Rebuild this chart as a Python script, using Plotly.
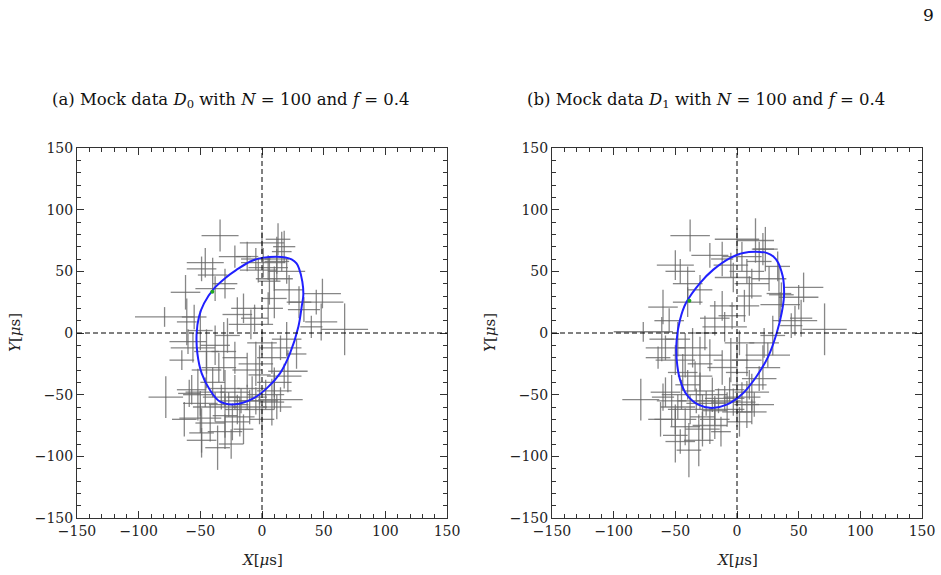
import plotly.graph_objects as go

# ---------------- data ----------------
tick_vals = [-150, -100, -50, 0, 50, 100, 150]
tick_text = ["\u2212150", "\u2212100", "\u221250", "0", "50", "100", "150"]

# panel (a): mock data D0  (x, y, x-error, y-error)
a_x = [-34, -46, -49, -22, -12, 0, 13, 18, 12, 16, 1, 5, -5, 12, -3, -40, -38, -30, 20, 10, 6,
       -79, -62, -61, -55, -65, -60, -56, -50, -45, -38, -31, -35, -28, -20, -15, -9, -6, 5, 10, 22,
       30, 34, 44, 49, 48, 40, 67, 20, 15, 28, 21, 18, 8, -2, 10, -12, -22, 0, -5,
       -78, -57, -59, -52, -50, -49, -42, -50, -63, -49, -36, -38, -33, -30, -27, -24, -22, -20,
       -17, -15, -12, -10, -5, -2, 3, 8, 10, 15, 12, 0, -30, -40, -45, -30, -25, -18, -8, -46]
a_y = [79, 57, 52, 62, 62, 73, 76, 70, 60, 66, 57, 53, 60, 58, 51, 47, 36, 40, 50, 44, 42,
       13, 33, 9, 13, -22, -7, -12, 2, -15, -10, -15, -28, -2, 15, 20, 7, 12, 20, 28, 35,
       25, 19, 25, 32, 9, 5, 3, -5, -12, -17, -31, -35, -20, -34, -40, -30, -20, -8, -25,
       -52, -46, -49, -50, -69, -81, -73, -57, -70, -87, -93, -60, -52, -67, -58, -72, -48, -62,
       -55, -78, -52, -60, -55, -62, -50, -56, -47, -54, -60, -70, -45, -40, -30, -80, -90, -68, -45, -48]
a_ex = [15, 15, 12, 13, 9, 18, 10, 9, 10, 8, 18, 16, 12, 10, 15, 12, 16, 10, 15, 15, 9,
        24, 12, 8, 10, 10, 15, 18, 10, 10, 12, 10, 14, 10, 12, 10, 18, 11, 12, 10, 12,
        10, 13, 22, 15, 13, 9, 19, 12, 17, 8, 16, 14, 12, 9, 14, 12, 10, 12, 14,
        14, 12, 9, 12, 17, 10, 12, 14, 10, 12, 10, 18, 15, 10, 16, 14, 12, 10,
        18, 8, 16, 14, 18, 12, 15, 10, 14, 18, 12, 10, 12, 10, 12, 14, 10, 12, 12, 16]
a_ey = [13, 12, 10, 9, 12, 9, 13, 13, 18, 16, 12, 10, 9, 10, 10, 14, 10, 12, 10, 10, 19,
        8, 14, 19, 10, 8, 10, 12, 16, 18, 16, 24, 12, 14, 14, 12, 12, 11, 13, 16, 12,
        13, 10, 10, 12, 15, 9, 21, 14, 10, 12, 17, 10, 13, 24, 12, 14, 13, 10, 18,
        17, 12, 11, 21, 12, 20, 15, 10, 14, 10, 18, 12, 10, 18, 10, 15, 14, 12,
        10, 12, 10, 14, 11, 12, 12, 19, 15, 10, 10, 12, 15, 12, 15, 14, 12, 16, 10, 12]

# panel (b): mock data D1
b_x = [-38, -50, -46, -22, -12, 0, 15, 21, 23, 18, 4, -5, 8, 33, -3, -40, -40, -30, 26, 12, -60,
       -76, -61, -55, -64, -58, -50, -48, -42, -36, -30, -34, -26, -18, -12, -10, -4, 6, 10, 34,
       36, 35, 54, 50, 47, 44, 52, 71, 29, 22, 25, 21, 18, 8, 0, 10, -12, -22, 2, -5,
       -78, -58, -60, -53, -50, -50, -42, -48, -62, -46, -39, -31, -38, -33, -28, -25, -22, -20,
       -18, -15, -13, -10, -8, -3, 0, 4, 8, 12, 14, 12, 2, -30, -40, -44, -28, -18, -6, -45]
b_y = [79, 55, 50, 63, 60, 76, 75, 68, 68, 58, 62, 55, 50, 54, 45, 40, 25, 35, 44, 40, 21,
       1, -5, 10, -20, -12, -22, -5, -18, -12, -25, -35, 0, 12, 22, 5, 14, 22, 30, 32,
       31, 23, 37, 29, 10, 6, 12, 3, -2, -8, -18, -28, -37, -22, -32, -42, -28, -18, -8, -22,
       -54, -48, -52, -55, -70, -83, -76, -60, -70, -88, -95, -87, -62, -55, -68, -57, -75, -50,
       -63, -55, -80, -53, -62, -56, -64, -52, -58, -48, -58, -64, -72, -47, -42, -32, -78, -70, -46, -50]
b_ex = [16, 15, 12, 15, 9, 18, 15, 9, 10, 10, 16, 14, 14, 10, 15, 12, 12, 10, 14, 14, 12,
        24, 10, 12, 10, 16, 16, 10, 10, 12, 10, 14, 10, 12, 10, 18, 11, 12, 10, 10,
        10, 16, 16, 16, 18, 9, 9, 18, 10, 12, 18, 14, 14, 12, 9, 14, 12, 10, 12, 14,
        15, 12, 9, 12, 17, 10, 12, 14, 10, 12, 10, 12, 18, 15, 10, 16, 14, 12,
        10, 18, 8, 16, 14, 18, 12, 15, 10, 14, 16, 12, 10, 12, 10, 12, 14, 12, 12, 16]
b_ey = [13, 12, 10, 10, 14, 9, 18, 13, 18, 16, 12, 10, 10, 12, 12, 14, 12, 12, 10, 12, 14,
        8, 18, 10, 9, 10, 12, 14, 18, 16, 22, 12, 14, 14, 12, 12, 11, 13, 16, 23,
        10, 10, 12, 10, 12, 10, 15, 21, 16, 12, 10, 18, 10, 13, 24, 12, 14, 13, 10, 18,
        17, 12, 11, 21, 12, 22, 15, 10, 14, 10, 22, 21, 12, 10, 18, 10, 15, 14,
        12, 10, 12, 10, 14, 11, 12, 12, 19, 15, 10, 10, 12, 15, 12, 15, 14, 16, 10, 12]

# fitted orbit curves
ell_a_x = [11.9, 19.0, 24.0, 28.0, 30.0, 32.7, 33.5, 32.2, 29.5, 22.7, 14.6, 3.8, -7.0, -21.9,
           -34.0, -42.2, -48.9, -52.4, -53.0, -51.1, -47.0, -39.0, -28.6, -21.0, -9.5, 1.1, 11.9]
ell_a_y = [61.9, 61.3, 59.7, 56.5, 52.4, 41.6, 30.8, 21.4, 5.1, -16.5, -32.7, -44.9, -53.0, -57.8,
           -55.7, -46.2, -32.7, -16.5, -0.3, 13.2, 24.0, 36.0, 45.5, 51.0, 58.0, 61.1, 61.9]
ell_b_x = [18.6, 24.5, 29.5, 33.5, 36.0, 37.6, 38.1, 36.2, 32.2, 25.4, 15.9, 5.1, -8.4, -20.5,
           -31.4, -40.8, -46.2, -48.9, -48.9, -46.2, -41.4, -30.0, -19.2, -5.7, 5.1, 18.6]
ell_b_y = [65.7, 64.8, 62.0, 56.8, 50.0, 43.2, 29.7, 16.2, 0.0, -18.9, -35.1, -48.6, -58.1, -60.8,
           -58.1, -50.0, -37.8, -21.6, -5.4, 10.8, 24.3, 40.5, 51.4, 60.8, 64.9, 65.7]
start_a = [-40.3, 33.5]
start_b = [-38.6, 26.2]

titles = ["(a) Mock data <i>D</i><sub>0</sub> with <i>N</i> = 100 and <i>f</i> = 0.4",
          "(b) Mock data <i>D</i><sub>1</sub> with <i>N</i> = 100 and <i>f</i> = 0.4"]

# ---------------- figure ----------------
W, H = 941, 575
serif = "DejaVu Serif"
fig = go.Figure()

panels = [
    ("x", "y", a_x, a_y, a_ex, a_ey, ell_a_x, ell_a_y, start_a),
    ("x2", "y2", b_x, b_y, b_ex, b_ey, ell_b_x, ell_b_y, start_b),
]
err_col = "rgba(105,105,105,0.8)"
for xa, ya, px, py, pex, pey, ex, ey, st in panels:
    fig.add_trace(go.Scatter(
        x=px, y=py, xaxis=xa, yaxis=ya, mode="markers",
        marker=dict(size=1, color="rgba(105,105,105,0.6)"),
        error_x=dict(type="data", array=pex, color=err_col, thickness=1.3, width=0),
        error_y=dict(type="data", array=pey, color=err_col, thickness=1.3, width=0),
        hoverinfo="skip", showlegend=False))
    fig.add_trace(go.Scatter(
        x=ex, y=ey, xaxis=xa, yaxis=ya, mode="lines",
        line=dict(color="#2020ff", width=2, shape="spline", smoothing=1.0),
        hoverinfo="skip", showlegend=False))
    fig.add_trace(go.Scatter(
        x=[st[0]], y=[st[1]], xaxis=xa, yaxis=ya, mode="markers",
        marker=dict(size=4, color="#22aa22"),
        hoverinfo="skip", showlegend=False))

axis_common = dict(
    range=[-150, 150], tickvals=tick_vals, ticktext=tick_text,
    ticks="inside", ticklen=7, tickwidth=1, tickcolor="#333",
    minor=dict(ticks="inside", ticklen=4, dtick=10, tickwidth=1, tickcolor="#333"),
    showline=True, linecolor="#333", linewidth=1, mirror="ticks",
    showgrid=False, zeroline=False, automargin=False,
    tickfont=dict(family=serif, size=14, color="#222"),
    fixedrange=True,
)
ydom = [1 - 518 / H, 1 - 148 / H]
fig.update_layout(
    width=W, height=H, margin=dict(l=0, r=0, t=0, b=0),
    paper_bgcolor="white", plot_bgcolor="white",
    xaxis=dict(domain=[77 / W, 447 / W], anchor="y", **axis_common),
    yaxis=dict(domain=ydom, anchor="x", **axis_common),
    xaxis2=dict(domain=[552 / W, 922 / W], anchor="y2", **axis_common),
    yaxis2=dict(domain=ydom, anchor="x2", **axis_common),
    hovermode=False,
)

shapes = []
for xa, ya in [("x", "y"), ("x2", "y2")]:
    shapes.append(dict(type="line", xref=xa, yref=ya + " domain", x0=0, x1=0, y0=0, y1=1,
                       line=dict(color="black", width=1, dash="5px,3px"), layer="above"))
    shapes.append(dict(type="line", xref=xa + " domain", yref=ya, x0=0, x1=1, y0=0, y1=0,
                       line=dict(color="black", width=1, dash="5px,3px"), layer="above"))
fig.update_layout(shapes=shapes)

ann = []
# panel titles
for cx, t in [(231, titles[0]), (706, titles[1])]:
    ann.append(dict(text=t, x=cx / W, y=1 - 101 / H, xref="paper", yref="paper",
                    showarrow=False, xanchor="center", yanchor="middle",
                    font=dict(family=serif, size=16.5, color="#111")))
# page number
ann.append(dict(text="9", x=928 / W, y=1 - 15 / H, xref="paper", yref="paper", showarrow=False,
                xanchor="center", yanchor="middle",
                font=dict(family=serif, size=17, color="#111")))
# axis titles
for cx, ly in [(262, 15), (737, 490)]:
    ann.append(dict(text="<i>X</i>[<i>\u03bc</i>s]", x=cx / W, y=1 - 560 / H, xref="paper",
                    yref="paper", showarrow=False, xanchor="center", yanchor="middle",
                    font=dict(family=serif, size=15, color="#222")))
    ann.append(dict(text="<i>Y</i>[<i>\u03bc</i>s]", x=ly / W, y=1 - 333 / H, xref="paper",
                    yref="paper", showarrow=False, xanchor="center", yanchor="middle",
                    textangle=-90, font=dict(family=serif, size=15, color="#222")))
fig.update_layout(annotations=ann)

fig.write_html("out.html")
